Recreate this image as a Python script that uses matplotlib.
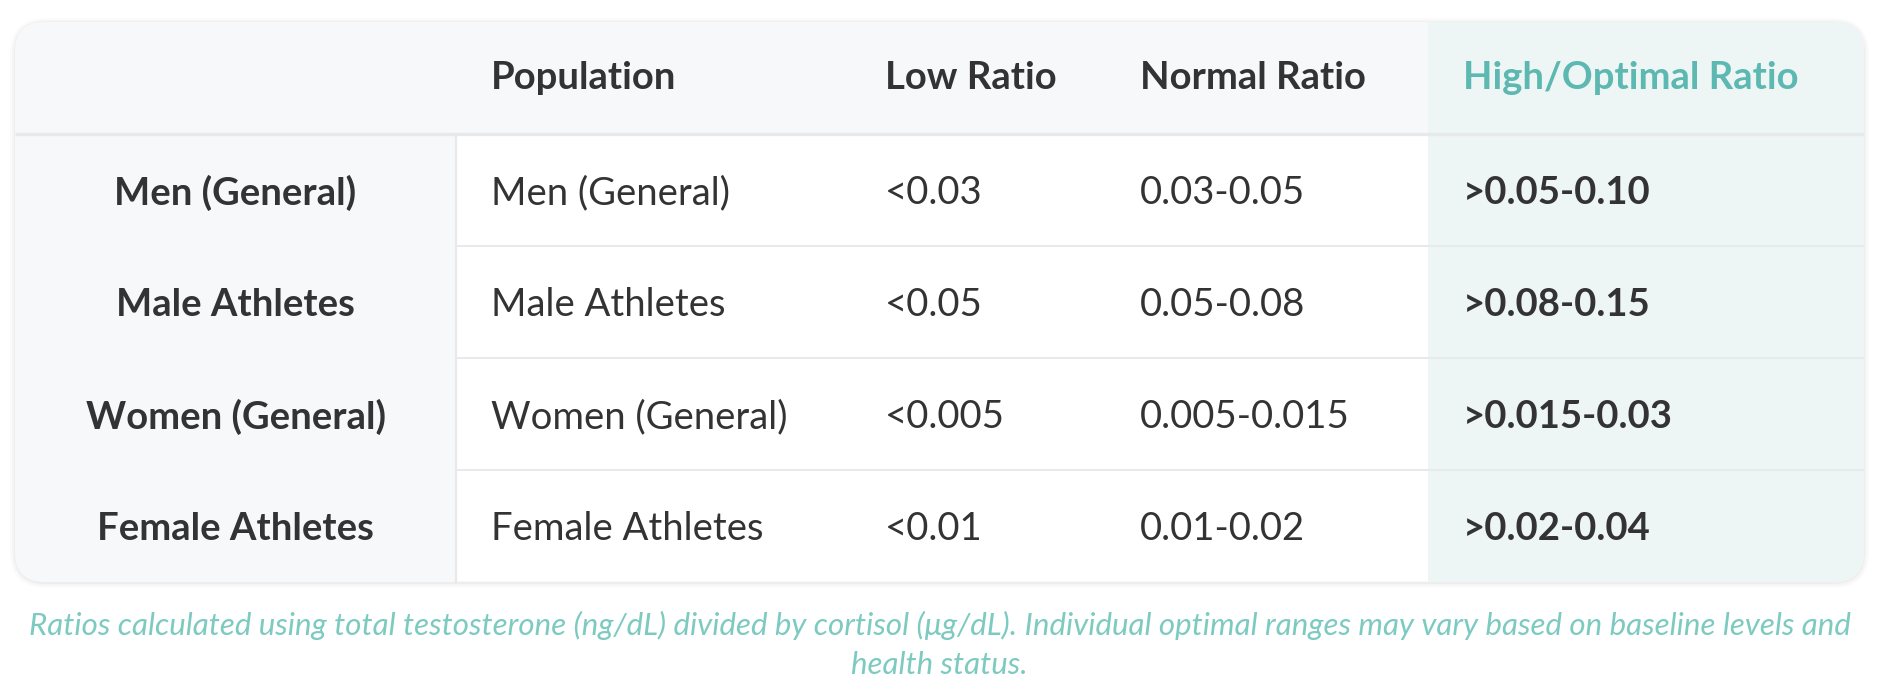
import matplotlib
matplotlib.use("Agg")
from matplotlib import pyplot as plt
from matplotlib.patches import FancyBboxPatch, Rectangle

plt.rcParams['font.family'] = ['Lato', 'DejaVu Sans']

# table content
columns = ["Population", "Low Ratio", "Normal Ratio", "High/Optimal Ratio"]
row_labels = ["Men (General)", "Male Athletes", "Women (General)", "Female Athletes"]
population = ["Men (General)", "Male Athletes", "Women (General)", "Female Athletes"]
low_ratio = ["<0.03", "<0.05", "<0.005", "<0.01"]
normal_ratio = ["0.03-0.05", "0.05-0.08", "0.005-0.015", "0.01-0.02"]
high_ratio = [">0.05-0.10", ">0.08-0.15", ">0.015-0.03", ">0.02-0.04"]
footnote = ["Ratios calculated using total testosterone (ng/dL) divided by cortisol (\u03bcg/dL). "
            "Individual optimal ranges may vary based on baseline levels and",
            "health status."]

W, H = 1904, 698
fig = plt.figure(figsize=(W / 100, H / 100), dpi=100)
ax = fig.add_axes([0, 0, 1, 1])
ax.set_xlim(0, W)
ax.set_ylim(H, 0)
ax.axis('off')

dark = "#333333"
teal = "#5cb8b0"
teal_note = "#7ccac0"
gray_bg = "#f7f8fa"
hi_bg = "#eef6f5"
line_c = "#e8e9ed"

# layout (pixels)
left, right, top, bottom = 15, 1864, 22, 582
head_bot = 134
col_x = [456, 850, 1105, 1428, right]   # column boundaries after the label column
pad = 35
row_h = (bottom - head_bot) / len(row_labels)
fs = 27.5

# shadow + card
for i, a in enumerate([0.03, 0.022, 0.015]):
    d = 2 + i * 2
    sh = FancyBboxPatch((left - d + 1, top - d + 2), right - left + 2 * d - 2, bottom - top + 2 * d - 2,
                        boxstyle="round,pad=0,rounding_size=%d" % (30 + d),
                        fc="#000000", ec="none", alpha=a, zorder=0)
    ax.add_patch(sh)
card = FancyBboxPatch((left, top), right - left, bottom - top,
                      boxstyle="round,pad=0,rounding_size=30",
                      fc="white", ec="#f0f0f0", lw=0.6, zorder=1)
ax.add_patch(card)

def clipped(p):
    ax.add_patch(p)
    p.set_clip_path(card)

# backgrounds
clipped(Rectangle((left, top), right - left, head_bot - top, fc=gray_bg, ec="none", zorder=2))
clipped(Rectangle((left, head_bot), col_x[0] - left, bottom - head_bot, fc=gray_bg, ec="none", zorder=2))
clipped(Rectangle((col_x[3], top), right - col_x[3], bottom - top, fc=hi_bg, ec="none", zorder=2))

# lines
ax.plot([left, right], [head_bot, head_bot], color=line_c, lw=2.4, zorder=3, solid_capstyle='butt')
ax.plot([col_x[0], col_x[0]], [head_bot, bottom], color=line_c, lw=1.6, zorder=3)
for i in range(1, len(row_labels)):
    y = head_bot + i * row_h
    ax.plot([col_x[0], right], [y, y], color=line_c, lw=1.4, zorder=3)

# header
head_y = (top + head_bot) / 2 - 3
for j, name in enumerate(columns):
    ax.text(col_x[j] + pad, head_y, name, ha='left', va='center_baseline', fontsize=fs,
            fontweight='bold', color=teal if j == 3 else dark, zorder=4)

# body
cells = [population, low_ratio, normal_ratio, high_ratio]
for i, lab in enumerate(row_labels):
    y = head_bot + (i + 0.5) * row_h
    ax.text((left + col_x[0]) / 2, y, lab, ha='center', va='center_baseline', fontsize=fs,
            fontweight='bold', color=dark, zorder=4)
    for j, col in enumerate(cells):
        ax.text(col_x[j] + pad, y, col[i], ha='left', va='center_baseline', fontsize=fs,
                fontweight='bold' if j == 3 else 'normal', color=dark, zorder=4)

# footnote
for k, line in enumerate(footnote):
    ax.text((left + right) / 2, 623 + k * 40, line, ha='center', va='center_baseline',
            fontsize=22.5, style='italic', color=teal_note, zorder=4)

fig.savefig("out.png", dpi=100)
